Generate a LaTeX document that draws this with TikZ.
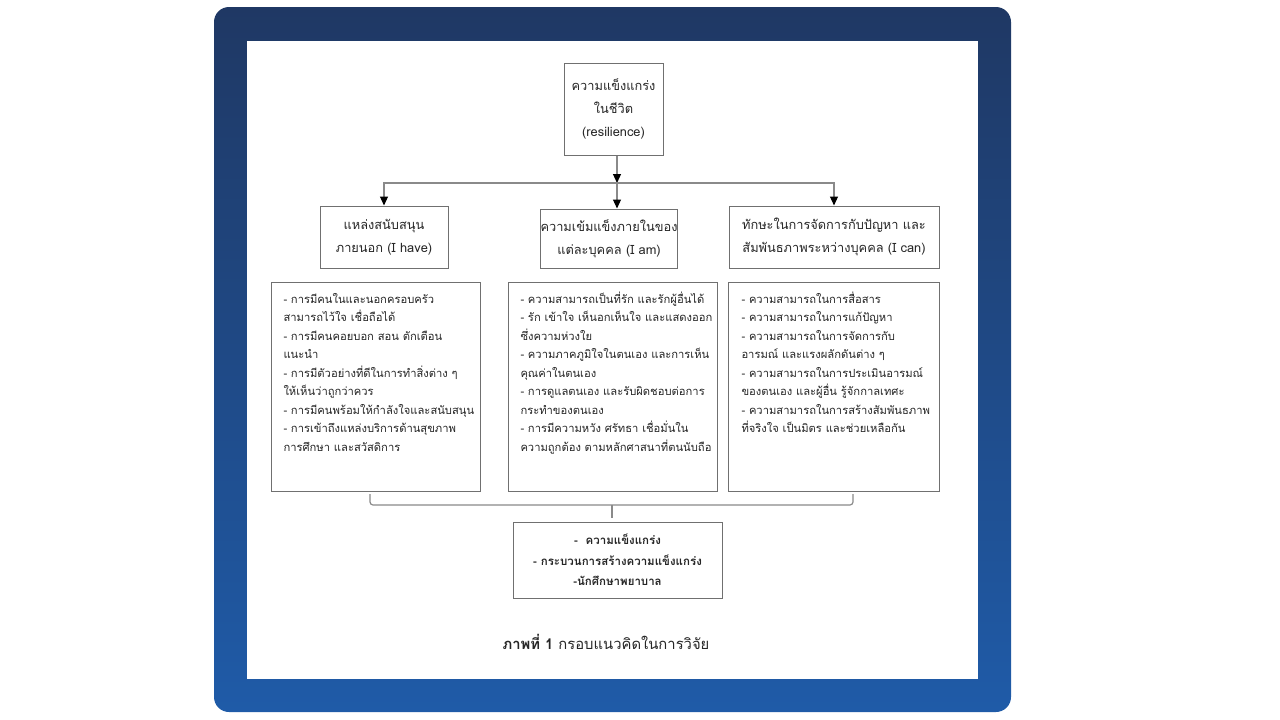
\documentclass[tikz,border=0pt]{standalone}
\usepackage{fontspec}
\setmainfont[Script=Thai]{Loma}
\usetikzlibrary{arrows.meta}
\definecolor{framedark}{HTML}{1F3864}
\definecolor{framelight}{HTML}{1F5BA8}
\definecolor{boxline}{HTML}{707070}
\definecolor{linkline}{HTML}{8A8A8A}
\definecolor{inktext}{HTML}{262626}
\tikzset{
  headbox/.style={draw=boxline, line width=1pt, align=center, inner sep=0pt, text=inktext, font=\fontsize{12.8}{23}\selectfont},
  listbox/.style={draw=boxline, line width=1pt, anchor=north west, inner xsep=12pt, inner ysep=8pt, text=inktext, font=\fontsize{11.2}{18.5}\selectfont},
  link/.style={draw=linkline, line width=1.2pt, -{Triangle[width=8pt,length=9pt,color=black]}},
  bracket/.style={draw=linkline, line width=1.2pt},
}
\newcommand{\listtext}[1]{\parbox[c][193pt][t]{185pt}{\begin{tabular}[t]{@{}l@{}}#1\end{tabular}}}
\begin{document}
\begin{tikzpicture}[x=1pt, y=-1pt]
    \useasboundingbox (0,0) rectangle (1280,720);
    % frame
    \shade[top color=framedark, bottom color=framelight, rounded corners=15pt] (214,7) rectangle (1011,712);
    \fill[white] (247,41) rectangle (978,679);

    % heads
    \node[headbox, minimum width=99pt, minimum height=92pt] (resil) at (613.5,109) {ความแข็งแกร่ง\\ในชีวิต\\(resilience)};
    \node[headbox, minimum width=128pt, minimum height=62pt] (have) at (384,237) {แหล่งสนับสนุน\\ภายนอก (I have)};
    \node[headbox, minimum width=136pt, minimum height=59pt] (am) at (609,238.5) {ความเข้มแข็งภายในของ\\แต่ละบุคคล (I am)};
    \node[headbox, minimum width=210pt, minimum height=62pt] (can) at (834,237) {ทักษะในการจัดการกับปัญหา และ\\สัมพันธภาพระหว่างบุคคล (I can)};

    \coordinate (split) at (617,183);
    \draw[link] (split |- resil.south) -- (split);
    \draw[link] (split) -- (split |- am.north);
    \draw[link] (split) -| (have.north);
    \draw[link] (split) -| (can.north);

    % lists
    \node[listbox] (havelist) at (271,282) {\listtext{- การมีคนในและนอกครอบครัว\\สามารถไว้ใจ เชื่อถือได้\\- การมีคนคอยบอก สอน ตักเตือน\\แนะนำ\\- การมีตัวอย่างที่ดีในการทำสิ่งต่าง ๆ\\ให้เห็นว่าถูกว่าควร\\- การมีคนพร้อมให้กำลังใจและสนับสนุน\\- การเข้าถึงแหล่งบริการด้านสุขภาพ\\การศึกษา และสวัสดิการ}};
    \node[listbox] (amlist) at (508,282) {\listtext{- ความสามารถเป็นที่รัก และรักผู้อื่นได้\\- รัก เข้าใจ เห็นอกเห็นใจ และแสดงออก\\ซึ่งความห่วงใย\\- ความภาคภูมิใจในตนเอง และการเห็น\\คุณค่าในตนเอง\\- การดูแลตนเอง และรับผิดชอบต่อการ\\กระทำของตนเอง\\- การมีความหวัง ศรัทธา เชื่อมั่นใน\\ความถูกต้อง ตามหลักศาสนาที่ตนนับถือ}};
    \node[listbox, minimum width=211pt] (canlist) at (728,282) {\listtext{- ความสามารถในการสื่อสาร\\- ความสามารถในการแก้ปัญหา\\- ความสามารถในการจัดการกับ\\อารมณ์ และแรงผลักดันต่าง ๆ\\- ความสามารถในการประเมินอารมณ์\\ของตนเอง และผู้อื่น รู้จักกาลเทศะ\\- ความสามารถในการสร้างสัมพันธภาพ\\ที่จริงใจ เป็นมิตร และช่วยเหลือกัน}};

    % bracket and result
    \node[headbox, font=\bfseries\fontsize{11.5}{20.5}\selectfont, minimum width=209pt, minimum height=76pt] (focus) at (617.5,560) {-~~ความแข็งแกร่ง\\- กระบวนการสร้างความแข็งแกร่ง\\-นักศึกษาพยาบาล};
    \coordinate (bl) at (370,494); \coordinate (br) at (853,494); \coordinate (bmid) at (612,505);
    \draw[bracket, rounded corners=3pt] (bl) |- (bmid) -| (br);
    \draw[bracket, shorten >=4pt] (bmid) -- (bmid |- focus.north);

    \node[text=inktext, font=\fontsize{14.8}{17}\selectfont] (caption) at (606,642) {\textbf{ภาพที่ 1} กรอบแนวคิดในการวิจัย};
\end{tikzpicture}
\end{document}
